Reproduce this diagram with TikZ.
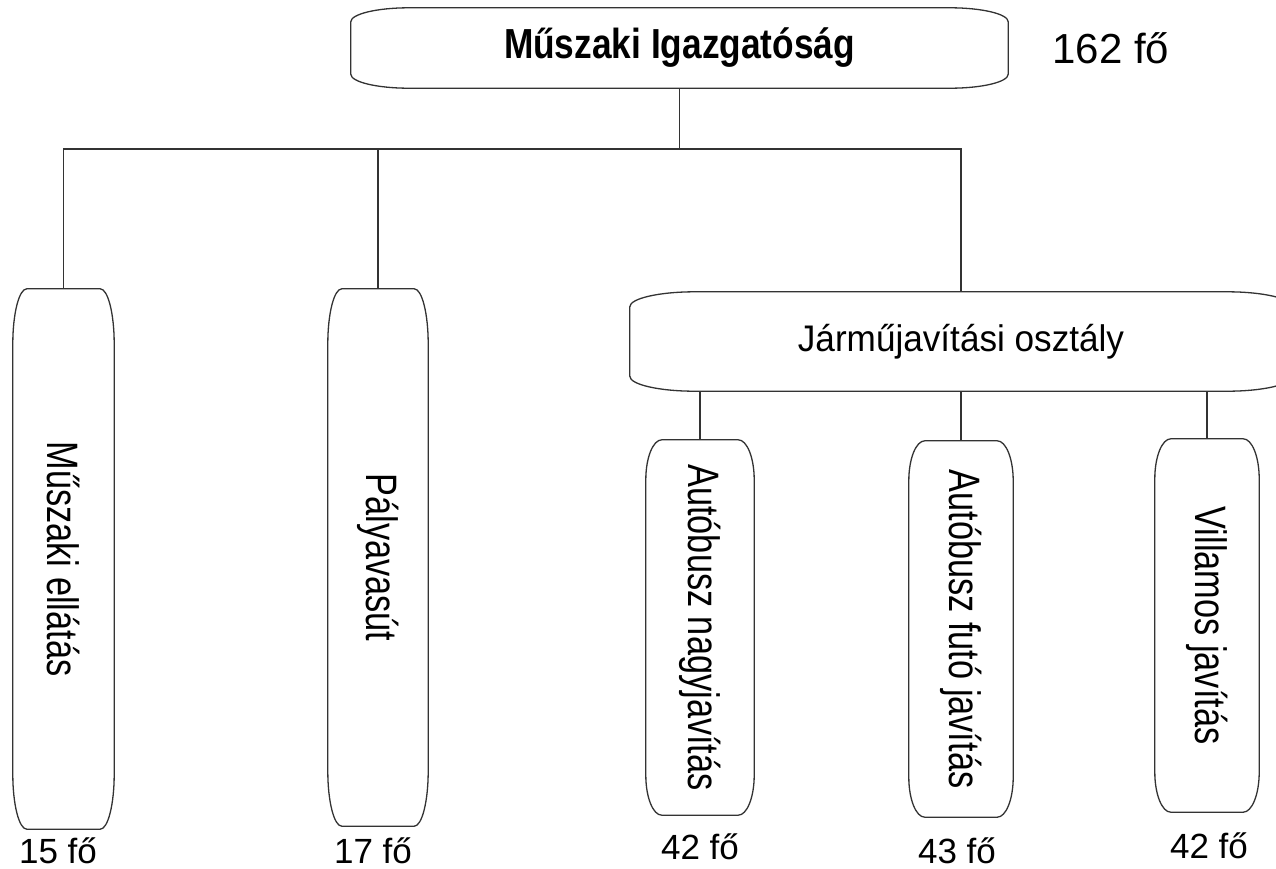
\documentclass[tikz,border=0pt]{standalone}
\usepackage{fontspec}
\setmainfont{Liberation Sans}
\usepackage{graphicx}
\newcommand\drawobox[3]{%
  \draw[boxline] ([yshift=-#3]#1.north west)
    arc[start angle=180,end angle=90,x radius=#2,y radius=#3]
    -- ([xshift=-#2]#1.north east)
    arc[start angle=90,end angle=0,x radius=#2,y radius=#3]
    -- ([yshift=#3]#1.south east)
    arc[start angle=0,end angle=-90,x radius=#2,y radius=#3]
    -- ([xshift=#2]#1.south west)
    arc[start angle=270,end angle=180,x radius=#2,y radius=#3]
    -- cycle;}
\newcommand\vsq[1]{\scalebox{0.78}[1]{#1}}
\begin{document}
\begin{tikzpicture}[x=1pt,y=-1pt,
  boxline/.style={draw=black!80, line width=1.3pt},
  conn/.style={draw=black!80, line width=1.3pt},
  box/.style={rectangle, inner sep=0pt, draw=none},
  vt/.style={rotate=-90, inner sep=0pt, font=\fontsize{44}{44}\selectfont},
  lbl/.style={inner sep=0pt, anchor=base, text depth=0pt, font=\fontsize{35}{35}\selectfont}]
\useasboundingbox (0,0) rectangle (1276,868);
\clip (0,0) rectangle (1276,868);
\fill[white] (0,0) rectangle (1276,868);

% nodes
\node[box, minimum width=657pt, minimum height=80pt] (top) at (679.5,48)
  {\fontsize{42}{42}\selectfont\bfseries\scalebox{0.84}[1]{Műszaki Igazgatóság}};
\node[inner sep=0pt, font=\fontsize{42}{42}\selectfont] (n162) at (1111,48) {162 fő};

\node[box, minimum width=101pt, minimum height=540pt] (b1) at (63.5,559) {};
\node[vt] (t1) at (b1.center) {\vsq{Műszaki ellátás}};
\node[box, minimum width=100pt, minimum height=537pt] (b2) at (378,557.5) {};
\node[vt] (t2) at (b2.center) {\vsq{Pályavasút}};

\node[box, minimum width=662pt, minimum height=99pt] (jb) at (961,341.5)
  {\fontsize{37}{37}\selectfont\scalebox{0.95}[1]{Járműjavítási osztály}};

\node[box, minimum width=108pt, minimum height=375pt] (ba) at (700,627.5) {};
\node[vt] (ta) at (ba.center) {\vsq{Autóbusz nagyjavítás}};
\node[box, minimum width=104pt, minimum height=376pt] (bb) at (961,629) {};
\node[vt] (tb) at (bb.center) {\vsq{Autóbusz futó javítás}};
\node[box, minimum width=104pt, minimum height=373pt] (bc) at (1207,625.5) {};
\node[vt] (tc) at (bc.center) {\vsq{Villamos javítás}};

\node[lbl] (l1) at (58,863) {15 fő};
\node[lbl] (l2) at (373,863) {17 fő};
\node[lbl] (la) at (700,859) {42 fő};
\node[lbl] (lb) at (957,863) {43 fő};
\node[lbl] (lc) at (1209,858) {42 fő};

% outlines
\drawobox{top}{58pt}{14pt}
\drawobox{b1}{14pt}{55pt}
\drawobox{b2}{14pt}{55pt}
\drawobox{jb}{65pt}{15pt}
\drawobox{ba}{16pt}{40pt}
\drawobox{bb}{16pt}{40pt}
\drawobox{bc}{16pt}{40pt}

% connectors
\coordinate (hl) at (63.5,149);
\draw[conn] (top.south) -- (top.south |- hl);
\draw[conn] (b1.north) -- (hl) -- (hl -| jb.north) -- (jb.north);
\draw[conn] (b2.north) -- (b2.north |- hl);
\draw[conn] (ba.north) -- (ba.north |- jb.south);
\draw[conn] (bb.north) -- (bb.north |- jb.south);
\draw[conn] (bc.north) -- (bc.north |- jb.south);
\end{tikzpicture}
\end{document}
